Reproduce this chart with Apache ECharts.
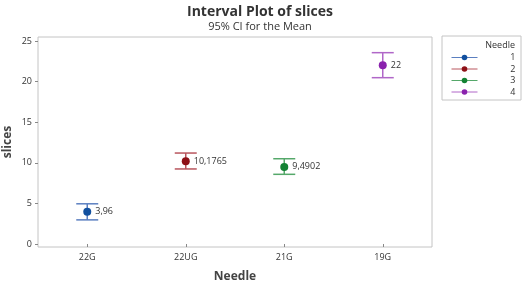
<!DOCTYPE html>
<html>
<head>
<meta charset="utf-8">
<script src="https://cdn.jsdelivr.net/npm/echarts@6/dist/echarts.min.js"></script>
<style>
  html, body { margin: 0; padding: 0; background: #fff; }
  #chart { width: 525px; height: 281px; }
</style>
</head>
<body>
<div id="chart"></div>
<script>
    // needle sizes (x categories) and group names (legend)
    const needles = ['22G', '22UG', '21G', '19G'];
    const groups = ['1', '2', '3', '4'];
    // means and 95% CI limits
    const means = [3.96, 10.1765, 9.4902, 22];
    const meanLabels = ['3,96', '10,1765', '9,4902', '22'];
    const ciLow = [2.97, 9.24, 8.58, 20.48];
    const ciHigh = [4.95, 11.2, 10.5, 23.56];
    const yTicks = [0, 5, 10, 15, 20, 25];

    const colors = ['#12509f', '#8e1117', '#138233', '#8a22ad'];
    const barColors = ['#5b7fc0', '#b9565e', '#55a86a', '#b067c8'];

    let chart = echarts.init(document.getElementById('chart'));

    let series = [];
    groups.forEach((g, i) => {
        let row = needles.map((n, j) => j === i ? means[i] : null);
        series.push({
            name: g,
            type: 'line',
            data: row,
            symbol: 'circle',
            symbolSize: 8,
            itemStyle: { color: colors[i] },
            lineStyle: { color: barColors[i], width: 1 },
            label: {
                show: true,
                position: 'right',
                distance: 4,
                fontSize: 9,
                color: '#333',
                fontFamily: 'Open Sans',
                formatter: () => meanLabels[i]
            },
            z: 3
        });
        series.push({
            name: 'ci' + g,
            type: 'custom',
            data: [[i, ciLow[i], ciHigh[i]]],
            renderItem: function (params, api) {
                let x = api.coord([api.value(0), 0])[0];
                let lo = api.coord([api.value(0), api.value(1)])[1];
                let hi = api.coord([api.value(0), api.value(2)])[1];
                let w = 11;
                let style = { stroke: barColors[i], lineWidth: 1.5 };
                return {
                    type: 'group',
                    children: [
                        { type: 'line', shape: { x1: x, y1: lo, x2: x, y2: hi }, style: style },
                        { type: 'line', shape: { x1: x - w, y1: hi, x2: x + w, y2: hi }, style: style },
                        { type: 'line', shape: { x1: x - w, y1: lo, x2: x + w, y2: lo }, style: style }
                    ]
                };
            },
            z: 2
        });
    });

    chart.setOption({
        backgroundColor: '#fff',
        title: [
            {
                text: 'Interval Plot of slices',
                left: 255,
                textAlign: 'center',
                top: 0,
                textStyle: { fontSize: 14, fontWeight: 'bold', color: '#333', fontFamily: 'Open Sans' }
            },
            {
                text: '95% CI for the Mean',
                left: 255,
                textAlign: 'center',
                top: 16,
                textStyle: { fontSize: 11, fontWeight: 'normal', color: '#333', fontFamily: 'Open Sans' }
            }
        ],
        grid: {
            left: 38,
            right: 93,
            top: 37,
            bottom: 34,
            outerBoundsMode: 'none',
            show: true,
            borderColor: '#c4c4c4',
            borderWidth: 1
        },
        legend: {
            data: groups,
            orient: 'vertical',
            left: 446,
            top: 48,
            itemWidth: 26,
            itemHeight: 7,
            itemGap: 2.5,
            selectedMode: false,
            lineStyle: { width: 1 },
            formatter: name => '{a|' + name + '}',
            textStyle: {
                fontSize: 9, color: '#333', fontFamily: 'Open Sans',
                rich: { a: { width: 33, align: 'right', fontSize: 9, lineHeight: 9, color: '#333' } }
            }
        },
        graphic: [
            {
                type: 'rect',
                shape: { x: 442, y: 36, width: 79, height: 64 },
                style: { fill: 'none', stroke: '#c4c4c4', lineWidth: 1 }
            },
            {
                type: 'text',
                x: 515,
                y: 41,
                style: { text: 'Needle', fontSize: 9, fill: '#333', align: 'right', fontFamily: 'Open Sans' }
            }
        ],
        xAxis: {
            type: 'category',
            data: needles,
            name: 'Needle',
            nameLocation: 'middle',
            nameGap: 24,
            nameTextStyle: { fontSize: 12, fontWeight: 'bold', color: '#444', fontFamily: 'Open Sans' },
            axisLine: { show: false },
            axisTick: { show: true, alignWithLabel: true, length: 3, lineStyle: { color: '#888' } },
            axisLabel: { fontSize: 9, color: '#333', margin: 6, fontFamily: 'Open Sans' },
            splitLine: { show: false }
        },
        yAxis: {
            type: 'value',
            min: -0.37,
            max: 25.49,
            name: 'slices',
            nameLocation: 'middle',
            nameGap: 24,
            nameMoveOverlap: false,
            nameTextStyle: { fontSize: 12, fontWeight: 'bold', color: '#444', fontFamily: 'Open Sans' },
            axisLine: { show: false },
            axisTick: { show: true, length: 3, customValues: yTicks, lineStyle: { color: '#888' } },
            axisLabel: { fontSize: 9, color: '#333', margin: 6, customValues: yTicks, fontFamily: 'Open Sans' },
            splitLine: { show: false }
        },
        series: series
    });
</script>
</body>
</html>
